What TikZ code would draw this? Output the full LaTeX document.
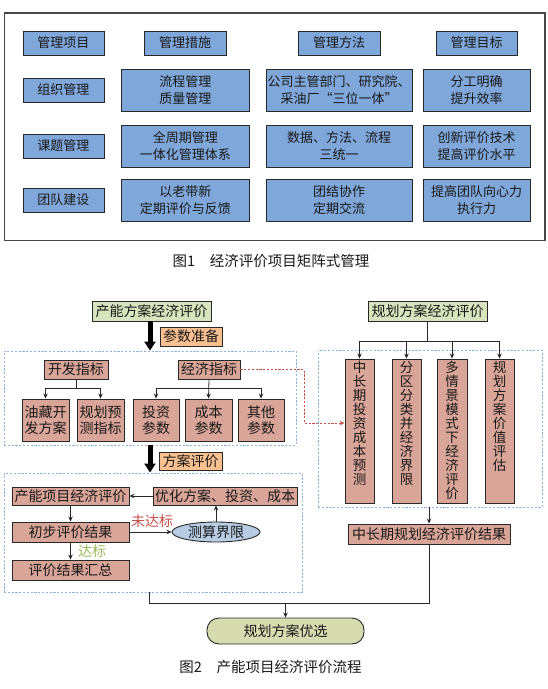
\documentclass[tikz,border=0pt]{standalone}
\usepackage{fontspec}
\setmainfont{Noto Sans CJK SC}
\usetikzlibrary{arrows.meta,shapes.geometric,shadows,calc}
\definecolor{blueF}{RGB}{128,167,217}
\definecolor{pinkF}{RGB}{218,165,153}
\definecolor{greenF}{RGB}{215,228,189}
\definecolor{orangeF}{RGB}{250,192,144}
\definecolor{finF}{RGB}{215,220,176}
\definecolor{ellF}{RGB}{184,204,228}
\definecolor{dashB}{RGB}{145,180,222}
\definecolor{redD}{RGB}{200,80,75}
\definecolor{greenT}{RGB}{155,187,89}
\definecolor{edgeC}{RGB}{40,40,40}
\definecolor{txtC}{RGB}{25,25,25}
\newcommand\fsz[2]{\fontsize{#1}{#2}\selectfont}
\begin{document}
\begin{tikzpicture}[x=1pt,y=-1pt,
  mbox/.style={draw=edgeC,fill=blueF,line width=0.9pt,inner sep=1pt,align=center,
    text=txtC,font=\fsz{13}{16.5}},
  pbox/.style={draw=edgeC,fill=pinkF,line width=0.9pt,inner sep=0.5pt,align=center,
    text=txtC,font=\fsz{14}{15.5},drop shadow={shadow xshift=0.9pt,shadow yshift=-0.9pt,fill=black,opacity=0.35}},
  gbox/.style={pbox,fill=greenF},
  obox/.style={pbox,fill=orangeF},
  dbox/.style={draw=dashB,line width=0.9pt,dash pattern=on 2.2pt off 1.6pt,inner sep=0pt},
  conn/.style={draw=edgeC,line width=0.8pt},
  arr/.style={conn,-{Stealth[length=5pt,width=4.5pt]}},
  bigarr/.style={draw=black,line width=5pt,-{Triangle[length=9pt,width=11pt]}},
  vtext/.style={align=center,text=txtC,font=\fsz{13.5}{14},inner sep=0pt,anchor=north},
  captxt/.style={text=txtC,font=\fsz{14.5}{16},inner sep=0pt}
]
\useasboundingbox (0,0) rectangle (547,689);
\fill[white] (0,0) rectangle (547,689);

% ---------------- Figure 1 ----------------
\node[draw=edgeC!85,line width=1.1pt,minimum width=540.5pt,minimum height=227.5pt,inner sep=0pt] (outer) at (274.75,126.75) {};

\node[mbox,minimum width=81pt,minimum height=24pt] (h1) at (63.5,43) {管理项目};
\node[mbox,minimum width=82pt,minimum height=24pt] (h2) at (185,43) {管理措施};
\node[mbox,minimum width=82pt,minimum height=24pt] (h3) at (339,43) {管理方法};
\node[mbox,minimum width=81pt,minimum height=24pt] (h4) at (476.5,43) {管理目标};

\node[mbox,minimum width=81pt,minimum height=24pt] (s1) at (63.5,90) {组织管理};
\node[mbox,minimum width=81pt,minimum height=24pt] (s2) at (63.5,146) {课题管理};
\node[mbox,minimum width=81pt,minimum height=24pt] (s3) at (63.5,200) {团队建设};

\node[mbox,minimum width=127.5pt,minimum height=42pt] (m1) at (185.25,90) {流程管理\\质量管理};
\node[mbox,minimum width=146pt,minimum height=42pt] (f1) at (339,90) {公司主管部门、研究院、\\采油厂“三位一体”};
\node[mbox,minimum width=107pt,minimum height=42pt] (g1) at (476.5,90) {分工明确\\提升效率};

\node[mbox,minimum width=127.5pt,minimum height=42pt] (m2) at (185.25,146) {全周期管理\\一体化管理体系};
\node[mbox,minimum width=146pt,minimum height=42pt] (f2) at (339,146) {数据、方法、流程\\三统一};
\node[mbox,minimum width=107pt,minimum height=42pt] (g2) at (476.5,146) {创新评价技术\\提高评价水平};

\node[mbox,minimum width=127.5pt,minimum height=42pt] (m3) at (185.25,200) {以老带新\\定期评价与反馈};
\node[mbox,minimum width=146pt,minimum height=42pt] (f3) at (339,200) {团结协作\\定期交流};
\node[mbox,minimum width=107pt,minimum height=42pt] (g3) at (476.5,200) {提高团队向心力\\执行力};

\node[captxt] (cap1) at (271,261) {图1\hspace{1em}经济评价项目矩阵式管理};

% ---------------- Figure 2 ----------------
% dashed frames
\node[dbox,minimum width=292pt,minimum height=94pt] (d1) at (150,398) {};
\node[dbox,minimum width=298pt,minimum height=119pt] (d3) at (153,532.5) {};
\node[dbox,minimum width=224pt,minimum height=157pt] (d2) at (430,428.5) {};

% left upper
\node[gbox,minimum width=119pt,minimum height=20pt] (a1) at (151.5,311) {产能方案经济评价};
\node[obox,minimum width=62pt,minimum height=19pt] (a2) at (191,336.5) {参数准备};
\draw[bigarr] (a1.south -| d1.north) -- (d1.north);

\node[pbox,minimum width=64pt,minimum height=19pt] (k1) at (76,369.5) {开发指标};
\node[pbox,minimum width=62pt,minimum height=19pt] (k2) at (209,369.5) {经济指标};

\node[pbox,minimum width=47pt,minimum height=42pt] (c1) at (45.5,420) {油藏开\\发方案};
\node[pbox,minimum width=47pt,minimum height=42pt] (c2) at (100.5,420) {规划预\\测指标};
\node[pbox,minimum width=46pt,minimum height=42pt] (c3) at (156,420) {投资\\参数};
\node[pbox,minimum width=47pt,minimum height=42pt] (c4) at (208.5,420) {成本\\参数};
\node[pbox,minimum width=46pt,minimum height=42pt] (c5) at (261,420) {其他\\参数};

\coordinate (kj1) at (76,388);
\coordinate (kj2) at (209,388);
\draw[conn] (k1.south) -- (kj1);
\draw[arr] (kj1) -| (c1.north);
\draw[arr] (kj1) -| (c2.north);
\draw[arr] (k2.south) -- (c4.north);
\draw[arr] (kj2) -| (c3.north);
\draw[arr] (kj2) -| (c5.north);

% middle arrow
\node[obox,minimum width=63pt,minimum height=18pt] (a3) at (190.5,461) {方案评价};
\draw[bigarr] (d1.south) -- (d1.south |- d3.north);

% left lower
\node[pbox,minimum width=117pt,minimum height=18pt] (e1) at (70.5,496) {产能项目经济评价};
\node[pbox,minimum width=144pt,minimum height=18pt] (e2) at (225,496) {优化方案、投资、成本};
\node[pbox,minimum width=117pt,minimum height=20pt] (e3) at (70.5,532) {初步评价结果};
\node[pbox,minimum width=117pt,minimum height=20pt] (e4) at (70.5,570) {评价结果汇总};
\node[ellipse,draw=edgeC,fill=ellF,line width=0.9pt,minimum width=88pt,minimum height=20pt,inner sep=0pt,
  text=txtC,font=\fsz{14}{15}] (el) at (216,532) {测算界限};

\draw[arr] (e2.west) -- (e1.east);
\draw[arr] (e1.south) -- (e3.north);
\draw[arr] (e3.south) -- (e4.north);
\draw[arr] (e3.east) -- (el.west);
\draw[arr] (el.north) -- (el.north |- e2.south);
\node[text=redD,font=\fsz{14}{15},inner sep=0pt] (nl1) at (152,521) {未达标};
\node[text=greenT,font=\fsz{14}{15},inner sep=0pt] (nl2) at (92,551) {达标};

% right side
\node[gbox,minimum width=119pt,minimum height=20pt] (r0) at (427.5,311) {规划方案经济评价};
\node[pbox,minimum width=29pt,minimum height=144pt] (v1) at (359.5,431) {};
\node[pbox,minimum width=29pt,minimum height=144pt] (v2) at (406.5,431) {};
\node[pbox,minimum width=30pt,minimum height=144pt] (v3) at (452,431) {};
\node[pbox,minimum width=29pt,minimum height=144pt] (v4) at (499.5,431) {};
\node[vtext] (v1t) at ($(v1.north)+(0,2.5)$) {中\\长\\期\\投\\资\\成\\本\\预\\测};
\node[vtext] (v2t) at ($(v2.north)+(0,2.5)$) {分\\区\\分\\类\\并\\经\\济\\界\\限};
\node[vtext] (v3t) at ($(v3.north)+(0,2.5)$) {多\\情\\景\\模\\式\\下\\经\\济\\评\\价};
\node[vtext] (v4t) at ($(v4.north)+(0,2.5)$) {规\\划\\方\\案\\价\\值\\评\\估};

\coordinate (rj) at (427.5,341);
\draw[conn] (r0.south) -- (rj);
\draw[arr] (rj) -| (v1.north);
\draw[arr] (rj) -| (v2.north);
\draw[arr] (rj) -| (v3.north);
\draw[arr] (rj) -| (v4.north);

\node[pbox,minimum width=162pt,minimum height=20pt] (r1) at (429,534) {中长期规划经济评价结果};
\draw[arr] (d2.south -| r1.north) -- (r1.north);

% red dashed link
\coordinate (rc) at (304,423);
\draw[draw=redD,line width=0.8pt,dash pattern=on 2.2pt off 1.6pt,-{Stealth[length=5pt,width=4.5pt]}]
  (k2.east) -- (k2.east -| rc) -- (rc) -- (rc -| v1.west);

% bottom join
\node[draw=edgeC,fill=finF,line width=0.9pt,rounded corners=12pt,minimum width=157pt,minimum height=26pt,
  inner sep=0pt,text=txtC,font=\fsz{14}{15}] (fin) at (285.5,631) {规划方案优选};
\coordinate (jl) at (149,603);
\draw[conn] (r1.south) |- (jl) -- (d3.south -| jl);
\draw[arr] (fin.north |- jl) -- (fin.north);

\node[captxt] (cap2) at (270.5,667) {图2\hspace{1em}产能项目经济评价流程};
\end{tikzpicture}
\end{document}
